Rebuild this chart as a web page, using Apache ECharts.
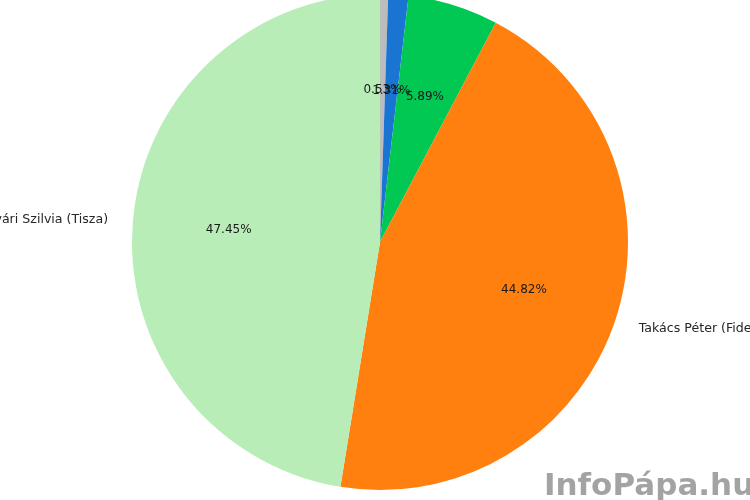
<!DOCTYPE html>
<html>
<head>
<meta charset="utf-8">
<script src="https://cdn.jsdelivr.net/npm/echarts@6/dist/echarts.min.js"></script>
<style>
html,body{margin:0;padding:0;background:#fff;}
#chart{width:750px;height:500px;}
</style>
</head>
<body>
<div id="chart"></div>
<script>
// Data (clockwise from 12 o'clock)
var candidates = ['Jelölt A', 'Jelölt B', 'Jelölt C', 'Takács Péter (Fidesz)', 'Horváthvári Szilvia (Tisza)'];
var shares = [0.53, 1.31, 5.89, 44.82, 47.45];
var showName = [false, false, false, true, true];
var palette = ['#bcbcbc', '#1a74d2', '#00c853', '#ff800e', '#b8edb8'];

var CX = 380, CY = 242, R = 248;

var mainData = candidates.map(function (n, i) {
  return {
    name: n, value: shares[i],
    itemStyle: { color: palette[i] },
    label: { show: showName[i] }
  };
});
var pctData = candidates.map(function (n, i) {
  return { name: n, value: shares[i] };
});

var chart = echarts.init(document.getElementById('chart'), null, { renderer: 'canvas' });
chart.setOption({
  animation: false,
  backgroundColor: '#ffffff',
  series: [
    {
      type: 'pie',
      center: [CX, CY],
      radius: [0, R],
      startAngle: 90,
      clockwise: true,
      silent: true,
      avoidLabelOverlap: false,
      labelLayout: { hideOverlap: false },
      itemStyle: { borderWidth: 0 },
      label: {
        position: 'outside',
        formatter: '{b}',
        fontFamily: 'DejaVu Sans',
        fontSize: 12.6,
        color: '#262626',
        distanceToLabelLine: 0
      },
      labelLine: { show: false, length: R * 0.1, length2: 0 },
      data: mainData
    },
    {
      type: 'pie',
      center: [CX, CY],
      radius: [0, R * 1.2],
      startAngle: 90,
      clockwise: true,
      silent: true,
      avoidLabelOverlap: false,
      labelLayout: { hideOverlap: false },
      itemStyle: { color: 'rgba(0,0,0,0)', borderWidth: 0 },
      label: {
        position: 'inside',
        formatter: function (p) { return p.value.toFixed(2) + '%'; },
        fontFamily: 'DejaVu Sans',
        fontSize: 12,
        color: '#1a1a1a'
      },
      labelLine: { show: false },
      data: pctData
    }
  ],
  graphic: [
    {
      type: 'text',
      left: 544,
      top: 471,
      silent: true,
      style: {
        text: 'InfoPápa.hu',
        fontFamily: 'DejaVu Sans',
        fontWeight: 'bold',
        fontSize: 31,
        fill: 'rgba(128,128,128,0.72)'
      }
    }
  ]
});
</script>
</body>
</html>
